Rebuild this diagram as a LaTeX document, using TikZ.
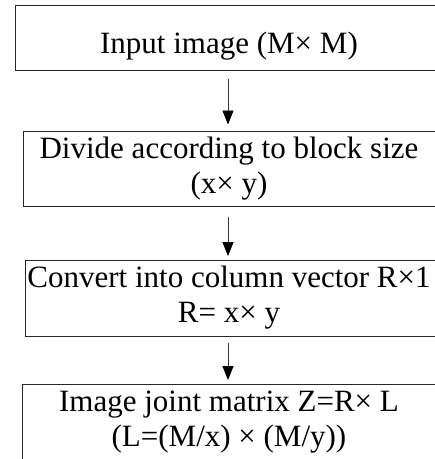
\documentclass[tikz,border=0pt]{standalone}
\usepackage{fontspec}
\setmainfont{Liberation Serif}
\usetikzlibrary{arrows.meta,calc}
\begin{document}
\begin{tikzpicture}[x=1pt,y=-1pt,
  box/.style={draw=black!85, line width=1.2pt, rectangle, inner sep=0pt, anchor=north west, minimum width=440pt},
  lbl/.style={font=\fontsize{31}{35}\selectfont, align=center, inner sep=0pt},
  arr/.style={line width=0.9pt, draw=black!80, -{Triangle[width=11pt,length=14pt,fill=black,color=black]}}]
\useasboundingbox (0,0) rectangle (435,459);
\clip (0,0) rectangle (435,459);
\fill[white] (0,0) rectangle (435,459);
\coordinate (ax) at (228,0);
\node[box, minimum height=65.5pt] (b1) at (15,4.5) {};
\node[box, minimum height=75pt] (b2) at (23,130.5) {};
\node[box, minimum height=76pt] (b3) at (25,260) {};
\node[box, minimum height=100pt] (b4) at (22,384) {};
\node[lbl] (t1) at (229,46) {Input image (M× M)};
\node[lbl] (t2) at (229,169) {Divide according to block size\\(x× y)};
\node[lbl] (t3) at (229,298) {Convert into column vector R×1\\R= x× y};
\node[lbl] (t4) at (229,422) {Image joint matrix Z=R× L\\(L=(M/x) × (M/y))};
\draw[arr] ($(b1.south -| ax)+(0,8)$) -- ($(b2.north -| ax)+(0,-6)$);
\draw[arr] ($(b2.south -| ax)+(0,10)$) -- ($(b3.north -| ax)+(0,-4)$);
\draw[arr] ($(b3.south -| ax)+(0,6)$) -- ($(b4.north -| ax)+(0,-4)$);
\end{tikzpicture}
\end{document}
